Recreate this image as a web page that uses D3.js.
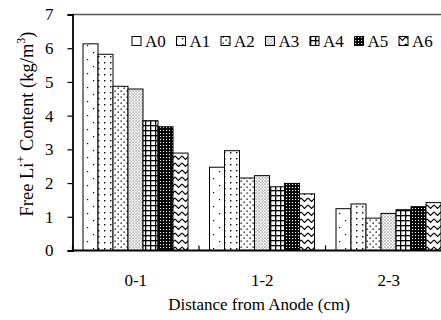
<!DOCTYPE html>
<html><head><meta charset="utf-8">
<script src="https://cdn.jsdelivr.net/npm/d3@7"></script>
<style>body{margin:0;background:#fff}svg{display:block}</style>
</head><body><svg id="c" width="441" height="320"></svg>
<script>
const categories = ["0-1", "1-2", "2-3"];
const seriesNames = ["A0", "A1", "A2", "A3", "A4", "A5", "A6"];
const A0 = [6.13, 2.47, 1.24];
const A1 = [5.82, 2.96, 1.38];
const A2 = [4.87, 2.15, 0.96];
const A3 = [4.79, 2.22, 1.10];
const A4 = [3.85, 1.89, 1.21];
const A5 = [3.67, 1.99, 1.30];
const A6 = [2.89, 1.68, 1.42];
const yTicks = [0, 1, 2, 3, 4, 5, 6, 7];
const seriesValues = [A0, A1, A2, A3, A4, A5, A6];
const FONT = "'Liberation Serif', 'Times New Roman', serif";

const svg = d3.select("#c");
const defs = svg.append("defs");
function pat(id, w, h) {
  const p = defs.append("pattern").attr("id", id).attr("patternUnits", "userSpaceOnUse")
    .attr("width", w).attr("height", h);
  p.append("rect").attr("width", w).attr("height", h).attr("fill", "#fff");
  return p;
}
let p = pat("p0", 12, 14);
p.append("rect").attr("x", 3).attr("y", 3).attr("width", 1.2).attr("height", 1.2).attr("fill", "#000");
p.append("rect").attr("x", 9).attr("y", 10).attr("width", 1.2).attr("height", 1.2).attr("fill", "#000");
p = pat("p1", 6, 6);
p.append("rect").attr("x", 2).attr("y", 2).attr("width", 1.4).attr("height", 1.4).attr("fill", "#000");
p = pat("p2", 6, 6);
p.append("rect").attr("x", 0.5).attr("y", 0.5).attr("width", 1.3).attr("height", 1.3).attr("fill", "#000");
p.append("rect").attr("x", 3.5).attr("y", 3.5).attr("width", 1.3).attr("height", 1.3).attr("fill", "#000");
p = pat("p3", 3, 3);
p.append("rect").attr("x", 0.5).attr("y", 0.5).attr("width", 1.1).attr("height", 1.1).attr("fill", "#444");
p.append("rect").attr("x", 2).attr("y", 2).attr("width", 0.8).attr("height", 0.8).attr("fill", "#888");
p = pat("p4", 5, 5);
p.append("rect").attr("x", 0).attr("y", 0).attr("width", 5).attr("height", 1.3).attr("fill", "#000");
p.append("rect").attr("x", 0).attr("y", 0).attr("width", 1.3).attr("height", 5).attr("fill", "#000");
p = pat("p5", 3, 3);
p.select("rect").attr("fill", "#000");
p.append("rect").attr("x", 1).attr("y", 1).attr("width", 1.1).attr("height", 1.1).attr("fill", "#fff");
p = pat("p6", 7, 7);
p.append("path").attr("d", "M0,2 L3.5,5.5 L7,2").attr("fill", "none").attr("stroke", "#000").attr("stroke-width", 1.1);

const x0 = d3.scaleBand().domain(categories).range([72.5, 452]).paddingInner(0).paddingOuter(0);
const x1 = d3.scaleBand().domain(seriesNames).range([10.5, 115.5]).padding(0);
const y = d3.scaleLinear().domain([0, 7]).range([250.5, 14.5]);

const g = svg.append("g");
categories.forEach((c, ci) => {
  seriesNames.forEach((s, si) => {
    const v = seriesValues[si][ci];
    g.append("rect")
      .attr("x", x0(c) + x1(s)).attr("y", y(v))
      .attr("width", x1.bandwidth()).attr("height", y(0) - y(v))
      .attr("fill", `url(#p${si})`).attr("stroke", "#000").attr("stroke-width", 1);
  });
});

svg.append("line").attr("x1", x0.range()[0]).attr("x2", 441).attr("y1", y(7)).attr("y2", y(7))
  .attr("stroke", "#555").attr("stroke-width", 1.6);

const ya = svg.append("g").attr("transform", `translate(${x0.range()[0]},0)`)
  .call(d3.axisLeft(y).tickValues(yTicks).tickFormat(d3.format("d")).tickSize(5).tickPadding(14));
ya.attr("font-family", FONT).attr("font-size", 17);
ya.select(".domain").attr("stroke-width", 1.8);
ya.selectAll(".tick line").attr("stroke-width", 1.2);

svg.append("line").attr("x1", x0.range()[0]).attr("x2", 441).attr("y1", y(0)).attr("y2", y(0))
  .attr("stroke", "#000").attr("stroke-width", 1.8);
categories.forEach(c => {
  svg.append("line").attr("x1", x0(c)).attr("x2", x0(c)).attr("y1", y(0)).attr("y2", y(0) - 5)
    .attr("stroke", "#000").attr("stroke-width", 1.2);
  svg.append("text").attr("x", x0(c) + x0.bandwidth() / 2).attr("y", 286)
    .attr("text-anchor", "middle").attr("font-family", FONT).attr("font-size", 17).text(c);
});

svg.append("text").attr("x", 259).attr("y", 310).attr("text-anchor", "middle")
  .attr("font-family", FONT).attr("font-size", 17).text("Distance from Anode (cm)");
const yt = svg.append("text").attr("transform", "translate(33,124) rotate(-90)")
  .attr("text-anchor", "middle").attr("font-family", FONT).attr("font-size", 18.5);
yt.append("tspan").text("Free Li");
yt.append("tspan").attr("dy", -8).attr("font-size", 12).text("+");
yt.append("tspan").attr("dy", 8).text(" Content (kg/m");
yt.append("tspan").attr("dy", -8).attr("font-size", 12).text("3");
yt.append("tspan").attr("dy", 8).text(")");

const lg = svg.append("g");
seriesNames.forEach((s, i) => {
  const lx = 132 + i * 44.5;
  lg.append("rect").attr("x", lx).attr("y", 36.5).attr("width", 9).attr("height", 9)
    .attr("fill", `url(#p${i})`).attr("stroke", "#000").attr("stroke-width", 1);
  lg.append("text").attr("x", lx + 13).attr("y", 46.5).attr("font-family", FONT).attr("font-size", 17).text(s);
});
</script></body></html>
